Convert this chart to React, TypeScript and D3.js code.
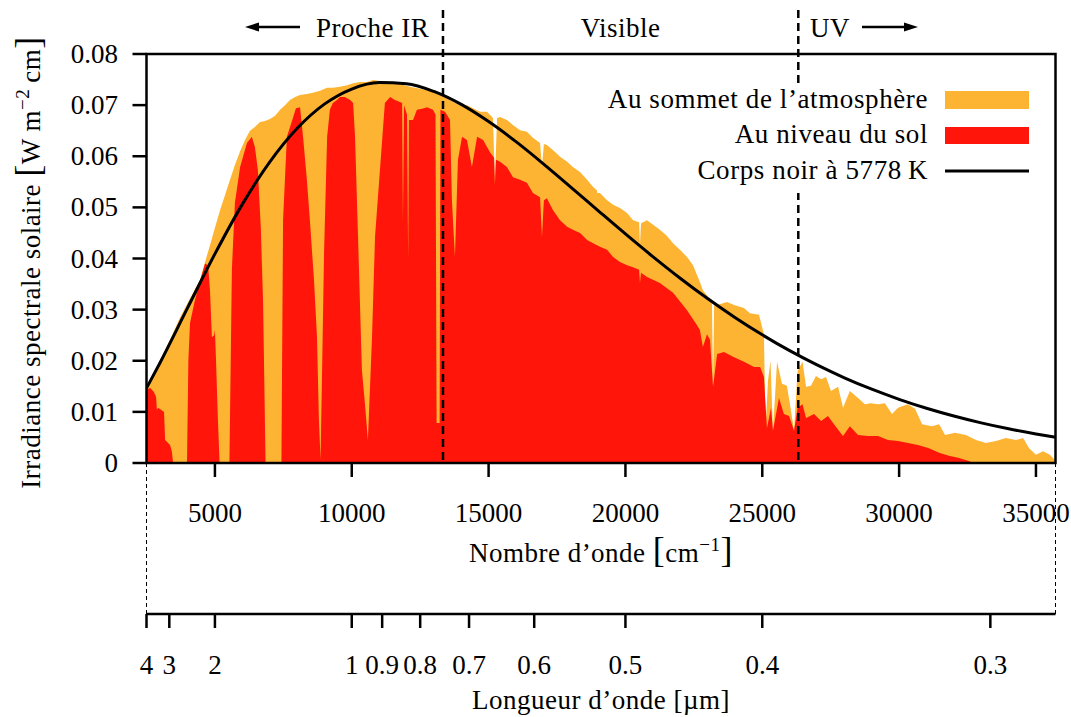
import React from "react";
import * as d3 from "d3";

// ---------- data ----------
const wavenumberTicks = [5000, 10000, 15000, 20000, 25000, 30000, 35000];
const irradianceTicks = [0, 0.01, 0.02, 0.03, 0.04, 0.05, 0.06, 0.07, 0.08];
const irradianceLabels = ["0", "0.01", "0.02", "0.03", "0.04", "0.05", "0.06", "0.07", "0.08"];
const wavelengthTicks = [4, 3, 2, 1, 0.9, 0.8, 0.7, 0.6, 0.5, 0.4, 0.3];
const wavelengthLabels = ["4", "3", "2", "1", "0.9", "0.8", "0.7", "0.6", "0.5", "0.4", "0.3"];
const regionBoundariesMicron = [0.75, 0.38];
const wavenumberDomain = [2500, 35714];

// Top of atmosphere (cm^-1, irradiance)
const topWavenumber = [
  2500, 2630, 2990, 3360, 3720, 4090, 4450, 4640, 4820, 5000, 5190, 5370, 5550, 5730, 5920, 6100, 6280, 6460, 6650, 6830,
  7010, 7200, 7380, 7560, 7740, 7930, 8110, 8360, 8580, 8840, 9100, 9310, 9570, 9830, 10050, 10300, 10560, 10780, 11030, 11400,
  11760, 12130, 12490, 12860, 13220, 13590, 13960, 14210, 14430, 14690, 14940, 15160, 15230, 15310, 15420, 15670, 15890, 16150, 16400, 16620,
  16880, 16950, 17020, 17130, 17350, 17610, 17870, 18080, 18340, 18600, 18820, 19070, 19330, 19550, 19800, 20060, 20280, 20500, 20530, 20570,
  20790, 21010, 21260, 21520, 21740, 21990, 22250, 22470, 22720, 22830, 23020, 23160, 23200, 23240, 23350, 23710, 23970, 24330, 24550, 24880,
  25060, 25120, 25210, 25300, 25390, 25540, 25720, 25900, 26050, 26160, 26290, 26470, 26600, 26780, 26960, 27150, 27330, 27510, 27770, 27950,
  28200, 28500, 28750, 28970, 29230, 29480, 29740, 29960, 30320, 30580, 30840, 31200, 31460, 31680, 32040, 32440, 32810, 33170, 33540, 33900,
  34270, 34530, 34750, 35000, 35260, 35510, 35660, 35714,
];
const topIrradiance = [
  0.0149, 0.0162, 0.0200, 0.0241, 0.0284, 0.0322, 0.0358, 0.0393, 0.0426, 0.0460, 0.0495, 0.0524, 0.0554, 0.0583, 0.0610, 0.0632, 0.0650, 0.0657, 0.0667, 0.0669,
  0.0673, 0.0679, 0.0691, 0.0700, 0.0710, 0.0716, 0.0720, 0.0722, 0.0724, 0.0728, 0.0734, 0.0734, 0.0736, 0.0739, 0.0743, 0.0745, 0.0745, 0.0749, 0.0747, 0.0745,
  0.0741, 0.0736, 0.0732, 0.0728, 0.0724, 0.0710, 0.0700, 0.0700, 0.0694, 0.0687, 0.0687, 0.0675, 0.0554, 0.0675, 0.0677, 0.0671, 0.0661, 0.0651, 0.0648, 0.0636,
  0.0626, 0.0579, 0.0624, 0.0622, 0.0612, 0.0599, 0.0589, 0.0579, 0.0569, 0.0554, 0.0540, 0.0528, 0.0514, 0.0505, 0.0499, 0.0489, 0.0475, 0.0471, 0.0426, 0.0469,
  0.0475, 0.0466, 0.0456, 0.0444, 0.0430, 0.0417, 0.0403, 0.0387, 0.0354, 0.0338, 0.0325, 0.0319, 0.0145, 0.0309, 0.0309, 0.0315, 0.0309, 0.0303, 0.0293, 0.0290,
  0.0252, 0.0067, 0.0162, 0.0200, 0.0063, 0.0198, 0.0155, 0.0151, 0.0102, 0.0063, 0.0180, 0.0198, 0.0149, 0.0151, 0.0170, 0.0164, 0.0168, 0.0141, 0.0149, 0.0108,
  0.0141, 0.0127, 0.0115, 0.0117, 0.0115, 0.0117, 0.0096, 0.0108, 0.0115, 0.0106, 0.0076, 0.0072, 0.0076, 0.0055, 0.0059, 0.0055, 0.0045, 0.0039, 0.0043, 0.0049,
  0.0045, 0.0049, 0.0029, 0.0016, 0.0023, 0.0016, 0.0008, 0,
];

// Ground level (cm^-1, irradiance)
const groundWavenumber = [
  2500, 2630, 2770, 2850, 2880, 2920, 3030, 3140, 3180, 3360, 3430, 3470, 3980, 4030, 4090, 4270, 4450, 4640, 4750, 4820,
  4890, 4970, 5000, 5040, 5110, 5170, 5530, 5620, 5730, 5920, 6170, 6350, 6460, 6570, 6680, 6760, 6850, 7430, 7490, 7630,
  7850, 7960, 8110, 8220, 8360, 8470, 8620, 8730, 8800, 8860, 8910, 8990, 9100, 9200, 9310, 9460, 9570, 9750, 9940, 10050,
  10120, 10230, 10370, 10480, 10590, 10740, 10850, 11030, 11210, 11400, 11580, 11760, 11840, 11870, 11910, 12020, 12060, 12090, 12240, 12380,
  12570, 12750, 12970, 13060, 13100, 13210, 13240, 13410, 13590, 13660, 13770, 13880, 14030, 14210, 14390, 14580, 14800, 15050, 15200, 15230,
  15270, 15420, 15670, 15890, 16150, 16400, 16620, 16880, 16950, 17020, 17130, 17350, 17610, 17870, 18080, 18340, 18600, 18820, 19070, 19330,
  19550, 19800, 20060, 20280, 20500, 20530, 20570, 20790, 21260, 21740, 22250, 22610, 22720, 22830, 22980, 23090, 23200, 23350, 23600, 23970,
  24330, 24700, 24920, 25060, 25170, 25320, 25390, 25610, 25790, 25980, 26160, 26290, 26470, 26600, 26890, 27150, 27400, 27620, 27950, 28200,
  28500, 28860, 29230, 29590, 29960, 30320, 30690, 31090, 31460, 31820, 32190, 32550, 32700, 35714,
];
const groundIrradiance = [
  0.0143, 0.0147, 0.0139, 0.0129, 0.0104, 0.0108, 0.0104, 0.0100, 0.0045, 0.0035, 0.0022, 0, 0, 0.0201, 0.0274, 0.0319, 0.0355, 0.0390, 0.0387, 0.0338,
  0.0246, 0.0250, 0.0260, 0.0201, 0.0084, 0, 0, 0.0378, 0.0509, 0.0579, 0.0626, 0.0638, 0.0618, 0.0573, 0.0456, 0.0313, 0, 0, 0.0475, 0.0638,
  0.0675, 0.0694, 0.0696, 0.0638, 0.0554, 0.0475, 0.0358, 0.0246, 0.0084, 0.0006, 0.0162, 0.0417, 0.0638, 0.0691, 0.0704, 0.0710, 0.0716, 0.0716, 0.0710, 0.0704,
  0.0638, 0.0442, 0.0182, 0.0117, 0.0045, 0.0246, 0.0442, 0.0573, 0.0704, 0.0716, 0.0710, 0.0706, 0.0704, 0.0475, 0.0700, 0.0681, 0.0397, 0.0671, 0.0671, 0.0691,
  0.0693, 0.0696, 0.0691, 0.0681, 0.0078, 0.0078, 0.0691, 0.0687, 0.0671, 0.0514, 0.0403, 0.0593, 0.0638, 0.0632, 0.0579, 0.0638, 0.0632, 0.0608, 0.0597, 0.0544,
  0.0593, 0.0589, 0.0579, 0.0559, 0.0554, 0.0548, 0.0528, 0.0520, 0.0442, 0.0514, 0.0518, 0.0495, 0.0475, 0.0462, 0.0456, 0.0450, 0.0436, 0.0430, 0.0423, 0.0417,
  0.0403, 0.0393, 0.0387, 0.0383, 0.0378, 0.0352, 0.0372, 0.0364, 0.0352, 0.0333, 0.0299, 0.0270, 0.0260, 0.0227, 0.0252, 0.0241, 0.0149, 0.0213, 0.0217, 0.0207,
  0.0198, 0.0188, 0.0188, 0.0168, 0.0068, 0.0108, 0.0063, 0.0127, 0.0096, 0.0092, 0.0063, 0.0108, 0.0115, 0.0088, 0.0096, 0.0082, 0.0092, 0.0076, 0.0053, 0.0072,
  0.0055, 0.0053, 0.0053, 0.0045, 0.0043, 0.0039, 0.0035, 0.0029, 0.0020, 0.0014, 0.0010, 0.0004, 0, 0,
];

// Black body 5778 K
const blackbodyWavenumber = [
  2500, 3000, 4000, 5000, 6000, 7000, 8000, 9000, 10000, 11000, 12000, 13000, 14000, 15000, 16000, 17000, 18000, 19000,
  20000, 21000, 22000, 23000, 24000, 25000, 26000, 27000, 28000, 29000, 30000, 31000, 32000, 33000, 34000, 35000, 35714,
];
const blackbodyIrradiance = [
  0.01464, 0.01967, 0.03033, 0.0409, 0.05059, 0.05887, 0.06544, 0.0702, 0.07315, 0.07442, 0.07419, 0.07268, 0.07014, 0.06678,
  0.06285, 0.05852, 0.05398, 0.04937, 0.0448, 0.04037, 0.03614, 0.03216, 0.02847, 0.02507, 0.02197, 0.01918, 0.01667, 0.01443,
  0.01246, 0.01071, 0.00919, 0.00785, 0.00669, 0.00569, 0.00506,
];

const legendLabels = ["Au sommet de l\u2019atmosphère", "Au niveau du sol", "Corps noir à 5778\u2009K"];
const ORANGE = "#FEB433";
const RED = "#FF150A";

// ---------- layout ----------
const L = 146.5, R = 1055.5, T = 54, B = 463;
const WL_AXIS_Y = 614;
const FONT = '"Liberation Serif", "DejaVu Serif", "Noto Serif", "Times New Roman", Times, serif';
const FS = 27;

export default function App() {
  const x = d3.scaleLinear().domain(wavenumberDomain).range([L, R]);
  const y = d3.scaleLinear().domain([0, 0.08]).range([B, T]);

  const area = d3
    .area<[number, number]>()
    .x((d) => x(d[0]))
    .y0(y(0))
    .y1((d) => y(d[1]));
  const line = d3
    .line<[number, number]>()
    .x((d) => x(d[0]))
    .y((d) => y(d[1]))
    .curve(d3.curveMonotoneX);

  const topData = topWavenumber.map((w, i) => [w, topIrradiance[i]] as [number, number]);
  const groundData = groundWavenumber.map((w, i) => [w, groundIrradiance[i]] as [number, number]);
  const bbData = blackbodyWavenumber.map((w, i) => [w, blackbodyIrradiance[i]] as [number, number]);

  const boundaryX = regionBoundariesMicron.map((m) => x(1e4 / m));

  const legendX = 945, legendW = 84, legendTextX = 928;
  const legendRows = [100, 135, 171];

  return (
    <svg width={1071} height={717} style={{ position: "absolute", left: 0, top: 0, background: "#fff", fontFamily: FONT }}>
      <defs>
        <clipPath id="plotClip">
          <rect x={L} y={T} width={R - L} height={B - T} />
        </clipPath>
      </defs>
      <rect x={0} y={0} width={1071} height={717} fill="#fff" />

      <g clipPath="url(#plotClip)">
        <path d={area(topData) || ""} fill={ORANGE} />
        <path d={area(groundData) || ""} fill={RED} />
        <path d={line(bbData) || ""} fill="none" stroke="#000" strokeWidth={3} />
      </g>

      {/* region boundaries */}
      {boundaryX.map((bx, i) => (
        <line key={i} x1={bx} x2={bx} y1={10} y2={B} stroke="#000" strokeWidth={2.5} strokeDasharray="8,5" />
      ))}

      {/* legend */}
      <rect x={597} y={84} width={445} height={109} fill="#fff" />
      {legendLabels.map((lab, i) => (
        <text key={i} x={legendTextX} y={legendRows[i] + 8} textAnchor="end" fontSize={FS} letterSpacing={0.6}>
          {lab}
        </text>
      ))}
      <rect x={legendX} y={91} width={legendW} height={18} fill={ORANGE} />
      <rect x={legendX} y={127} width={legendW} height={17} fill={RED} />
      <line x1={legendX} x2={legendX + legendW} y1={171} y2={171} stroke="#000" strokeWidth={3} />

      {/* frame */}
      <rect x={L} y={T} width={R - L} height={B - T} fill="none" stroke="#000" strokeWidth={2.5} />

      {/* y axis */}
      {irradianceTicks.map((t, i) => (
        <g key={i}>
          <line x1={L - 14} x2={L} y1={y(t)} y2={y(t)} stroke="#000" strokeWidth={2.5} />
          <text x={118} y={y(t) + 9} textAnchor="end" fontSize={FS}>
            {irradianceLabels[i]}
          </text>
        </g>
      ))}
      <text transform={`translate(40, ${(T + B) / 2 + 4}) rotate(-90)`} textAnchor="middle" fontSize={FS} letterSpacing={0.5}>
        Irradiance spectrale solaire <tspan fontSize={36}>[</tspan>W m<tspan dy={-11} fontSize={19}>−2</tspan>
        <tspan dy={11}>{"\u2009"}cm</tspan>
        <tspan fontSize={36}>]</tspan>
      </text>

      {/* wavenumber axis */}
      {wavenumberTicks.map((t) => (
        <g key={t}>
          <line x1={x(t)} x2={x(t)} y1={B} y2={B + 14} stroke="#000" strokeWidth={2.5} />
          <text x={x(t)} y={522} textAnchor="middle" fontSize={FS}>
            {t}
          </text>
        </g>
      ))}
      <text x={(L + R) / 2} y={562} textAnchor="middle" fontSize={FS} letterSpacing={0.5}>
        Nombre d’onde <tspan fontSize={36}>[</tspan>cm<tspan dy={-11} fontSize={19}>−1</tspan>
        <tspan dy={11} fontSize={36}>]</tspan>
      </text>

      {/* connecting dashed lines */}
      <line x1={L} x2={L} y1={B} y2={WL_AXIS_Y} stroke="#000" strokeWidth={1} strokeDasharray="4,3" />
      <line x1={R} x2={R} y1={B} y2={WL_AXIS_Y} stroke="#000" strokeWidth={1} strokeDasharray="4,3" />

      {/* wavelength axis */}
      <line x1={L} x2={R} y1={WL_AXIS_Y} y2={WL_AXIS_Y} stroke="#000" strokeWidth={2.5} />
      {wavelengthTicks.map((t, i) => (
        <g key={t}>
          <line x1={x(1e4 / t)} x2={x(1e4 / t)} y1={WL_AXIS_Y} y2={WL_AXIS_Y + 14} stroke="#000" strokeWidth={2.5} />
          <text x={x(1e4 / t)} y={674} textAnchor="middle" fontSize={FS}>
            {wavelengthLabels[i]}
          </text>
        </g>
      ))}
      <text x={(L + R) / 2} y={709} textAnchor="middle" fontSize={FS} letterSpacing={0.5}>
        Longueur d’onde [µm]
      </text>

      {/* top region labels */}
      <line x1={258} x2={300} y1={27} y2={27} stroke="#000" strokeWidth={2.5} />
      <path d="M245,27 L259,22.5 L259,31.5 Z" fill="#000" />
      <text x={316} y={37} fontSize={FS} letterSpacing={0.5}>Proche IR</text>
      <text x={(boundaryX[0] + boundaryX[1]) / 2} y={37} textAnchor="middle" fontSize={FS} letterSpacing={0.5}>
        Visible
      </text>
      <text x={810} y={37} fontSize={FS} letterSpacing={0.5}>UV</text>
      <line x1={862} x2={905} y1={27} y2={27} stroke="#000" strokeWidth={2.5} />
      <path d="M918,27 L904,22.5 L904,31.5 Z" fill="#000" />
    </svg>
  );
}
